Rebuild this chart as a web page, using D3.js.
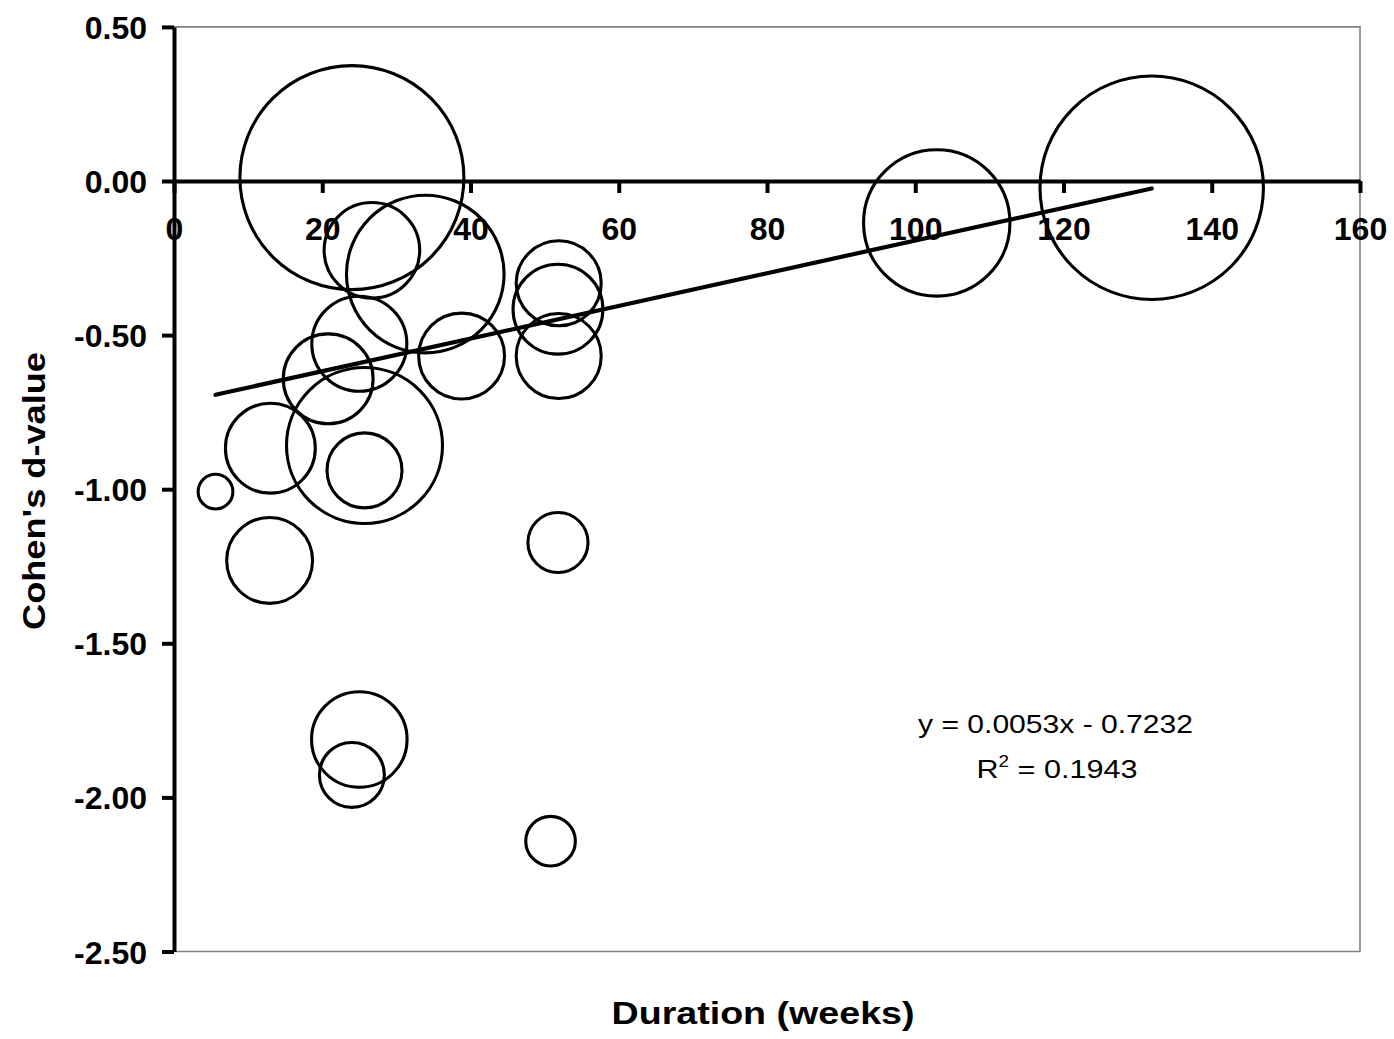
<!DOCTYPE html>
<html>
<head>
<meta charset="utf-8">
<script src="https://cdn.jsdelivr.net/npm/d3@7/dist/d3.min.js"></script>
<style>
  html, body { margin: 0; padding: 0; background: #fff; }
  svg { display: block; }
  text { font-family: "Liberation Sans", Arial, Helvetica, sans-serif; fill: #000; }
</style>
</head>
<body>
<svg id="chart" width="1394" height="1039"></svg>
<script>
// ---- Data ----
const durationWeeks = [24.0, 26.7, 33.9, 38.8, 25.0, 20.8, 25.7, 13.0, 25.7, 5.6,
                       12.9, 25.0, 24.0, 51.9, 51.8, 51.9, 51.8, 50.8, 102.9, 131.9];
const cohensD       = [0.011, -0.225, -0.302, -0.568, -0.528, -0.642, -0.858, -0.867, -0.939, -1.008,
                       -1.231, -1.812, -1.927, -0.332, -0.416, -0.568, -1.173, -2.142, -0.136, -0.022];
const bubbleSize    = [1000, 182, 495, 147, 180, 161, 485, 161, 112, 24,
                       147, 182, 84, 144, 161, 144, 72, 49, 427, 995];
const xTickValues = [0, 20, 40, 60, 80, 100, 120, 140, 160];
const yTickValues = [0.5, 0, -0.5, -1, -1.5, -2, -2.5];
const trendSlope = 0.0053;
const trendIntercept = -0.7232;
const equationLabel = "y = 0.0053x - 0.7232";
const r2Value = "0.1943";
const xTitle = "Duration (weeks)";
const yTitle = "Cohen's d-value";

// ---- Layout ----
const svg = d3.select("#chart");
const plotLeft = 174, plotRight = 1360, plotTop = 26.9, plotBottom = 951.5;
const x = d3.scaleLinear().domain([0, 160]).range([plotLeft, plotRight]);
const y = d3.scaleLinear().domain([-2.5, 0.5]).range([plotBottom, plotTop]);
const r = d3.scaleSqrt().domain([0, 1000]).range([0, 112]);
const fontFam = '"Liberation Sans", Arial, Helvetica, sans-serif';

// Plot area border (grey) top/right/bottom
svg.append("path")
  .attr("d", `M${plotLeft},${plotTop}H${plotRight}V${plotBottom}H${plotLeft}`)
  .attr("fill", "none").attr("stroke", "#808080").attr("stroke-width", 1.6);

// Bubbles
const pts = durationWeeks.map((d, i) => ({ x: d, y: cohensD[i], s: bubbleSize[i] }));
svg.append("g").selectAll("circle").data(pts).join("circle")
  .attr("cx", d => x(d.x)).attr("cy", d => y(d.y)).attr("r", d => r(d.s))
  .attr("fill", "none").attr("stroke", "#000").attr("stroke-width", 3.1);

// Y axis
const yAxis = d3.axisLeft(y).tickValues(yTickValues)
  .tickFormat(d => d.toFixed(2)).tickSize(12).tickSizeOuter(0).tickPadding(15);
const gy = svg.append("g").attr("transform", `translate(${plotLeft},0)`).call(yAxis);
gy.select(".domain").attr("stroke", "#000").attr("stroke-width", 4);
gy.selectAll(".tick line").attr("stroke", "#000").attr("stroke-width", 4);
gy.selectAll(".tick text").attr("font-family", fontFam).attr("font-weight", "bold")
  .attr("font-size", 32).attr("dy", "0.36em").attr("fill", "#000");

// X axis at y = 0
const xAxis = d3.axisBottom(x).tickValues(xTickValues)
  .tickFormat(d => String(d)).tickSize(12).tickSizeOuter(0);
const gx = svg.append("g").attr("transform", `translate(0,${y(0)})`).call(xAxis);
gx.select(".domain").attr("stroke", "#000").attr("stroke-width", 4);
gx.selectAll(".tick line").attr("stroke", "#000").attr("stroke-width", 4);
gx.selectAll(".tick text").attr("font-family", fontFam).attr("font-weight", "bold")
  .attr("font-size", 32).attr("y", 59).attr("dy", 0).attr("fill", "#000");

// Linear trendline
const xExt = d3.extent(durationWeeks);
const trend = xExt.map(v => [v, trendSlope * v + trendIntercept]);
svg.append("path")
  .attr("d", d3.line().x(d => x(d[0])).y(d => y(d[1]))(trend))
  .attr("fill", "none").attr("stroke", "#000").attr("stroke-width", 4.2)
  .attr("stroke-linecap", "round");

// Equation label
svg.append("text").attr("x", 1055.5).attr("y", 733)
  .attr("text-anchor", "middle").attr("font-size", 26)
  .attr("textLength", 275).attr("lengthAdjust", "spacingAndGlyphs")
  .text(equationLabel);
const r2 = svg.append("text").attr("x", 1057).attr("y", 778)
  .attr("text-anchor", "middle").attr("font-size", 26)
  .attr("textLength", 161).attr("lengthAdjust", "spacingAndGlyphs");
r2.append("tspan").text("R");
r2.append("tspan").attr("font-size", 16).attr("dy", -11).text("2");
r2.append("tspan").attr("dy", 11).text(" = " + r2Value);

// Axis titles
svg.append("text").attr("x", 763).attr("y", 1024)
  .attr("text-anchor", "middle").attr("font-size", 31).attr("font-weight", "bold")
  .attr("textLength", 303).attr("lengthAdjust", "spacingAndGlyphs")
  .text(xTitle);
svg.append("text").attr("transform", "translate(45,491) rotate(-90)")
  .attr("text-anchor", "middle").attr("font-size", 31).attr("font-weight", "bold")
  .attr("textLength", 278).attr("lengthAdjust", "spacingAndGlyphs")
  .text(yTitle);
</script>
</body>
</html>
